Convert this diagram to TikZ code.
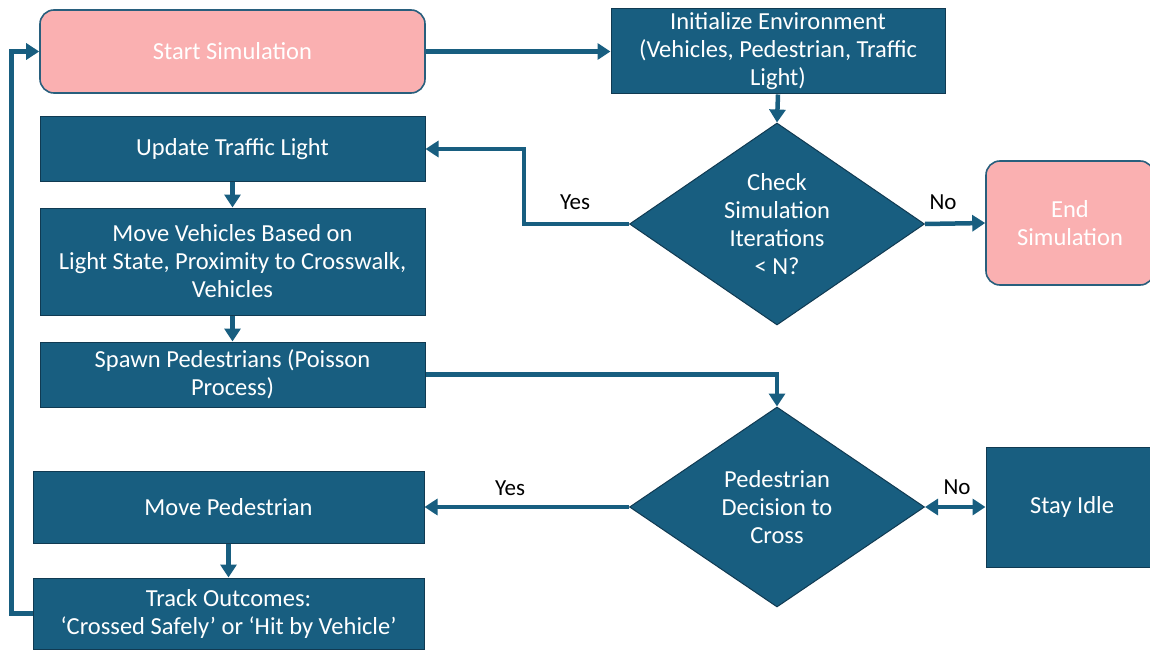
\documentclass[tikz,border=0pt]{standalone}
\usepackage{fontspec}
\setmainfont{Carlito}
\usetikzlibrary{arrows.meta,shapes.geometric}
\definecolor{dblue}{RGB}{24,94,128}
\definecolor{dborder}{RGB}{16,58,82}
\definecolor{pinkf}{RGB}{250,176,177}
\definecolor{pinkb}{RGB}{40,95,125}
\begin{document}
\begin{tikzpicture}[x=1pt,y=-1pt,
 txt/.style={font=\fontsize{24.5}{28}\selectfont},
 box/.style={rectangle, fill=dblue, draw=dborder, line width=1pt, text=white, txt, align=center, inner sep=0pt},
 term/.style={rectangle, rounded corners=14pt, fill=pinkf, draw=pinkb, line width=1.6pt, text=white, txt, align=center, inner sep=0pt},
 dia/.style={diamond, fill=dblue, draw=dborder, line width=1pt, inner sep=0pt, minimum width=295pt, minimum height=202pt},
 dtext/.style={text=white, txt, align=center},
 flow/.style={draw=dblue, line width=4.5pt, -{Triangle[width=16pt,length=13pt]}},
 lbl/.style={text=black, font=\fontsize{23}{26}\selectfont}
]
\useasboundingbox (0,0) rectangle (1150,650);
\fill[white] (0,0) rectangle (1150,650);

\node[term, minimum width=385pt, minimum height=83pt] (start) at (232.5,51.5) {Start Simulation};
\node[box, minimum width=334pt, minimum height=85pt] (init) at (778,51.5) {Initialize Environment\\(Vehicles, Pedestrian, Traffic\\Light)};
\node[box, minimum width=385pt, minimum height=64pt] (upd) at (232.5,149) {Update Traffic Light};
\node[box, minimum width=385pt, minimum height=107pt] (movev) at (232.5,261.5) {Move Vehicles Based on\\Light State, Proximity to Crosswalk,\\Vehicles};
\node[box, minimum width=385pt, minimum height=65pt] (spawn) at (232.5,374.5) {Spawn Pedestrians (Poisson\\Process)};
\node[box, minimum width=391pt, minimum height=72pt] (movep) at (228.5,507) {Move Pedestrian};
\node[box, minimum width=391pt, minimum height=71pt] (track) at (228.5,613.5) {Track Outcomes:\\‘Crossed Safely’ or ‘Hit by Vehicle’};

\node[dia] (chk) at (777,224) {};
\node[dtext] (chkt) at (777,224) {Check\\Simulation\\Iterations\\< N?};
\node[term, minimum width=168pt, minimum height=124pt] (end) at (1070,223) {End\\Simulation};

\node[dia, minimum height=200pt] (ped) at (777,507) {};
\node[dtext] (pedt) at (777,507) {Pedestrian\\Decision to\\Cross};
\node[box, minimum width=172pt, minimum height=120pt] (idle) at (1072,507) {Stay Idle};

\draw[flow] (start.east) -- (init.west);
\draw[flow] (init.south) -- (chk.north);
\draw[flow] (chk.west) -- ++(-105,0) |- (upd.east);
\draw[flow] (chk.east) -- (end.west);
\draw[flow] (upd.south) -- (movev.north);
\draw[flow] (movev.south) -- (spawn.north);
\draw[flow] (spawn.east) -| (ped.north);
\draw[flow] (ped.west) -- (movep.east);
\draw[draw=dblue, line width=4.5pt, {Triangle[width=16pt,length=13pt]}-{Triangle[width=16pt,length=13pt]}] (ped.east) -- (idle.west);
\draw[flow] (movep.south) -- (track.north);
\draw[flow] (track.west) -- ++(-21,0) |- (start.west);

\node[lbl] (l1) at (575,202) {Yes};
\node[lbl] (l2) at (943,202) {No};
\node[lbl] (l3) at (510,488) {Yes};
\node[lbl] (l4) at (957,487) {No};
\end{tikzpicture}
\end{document}
